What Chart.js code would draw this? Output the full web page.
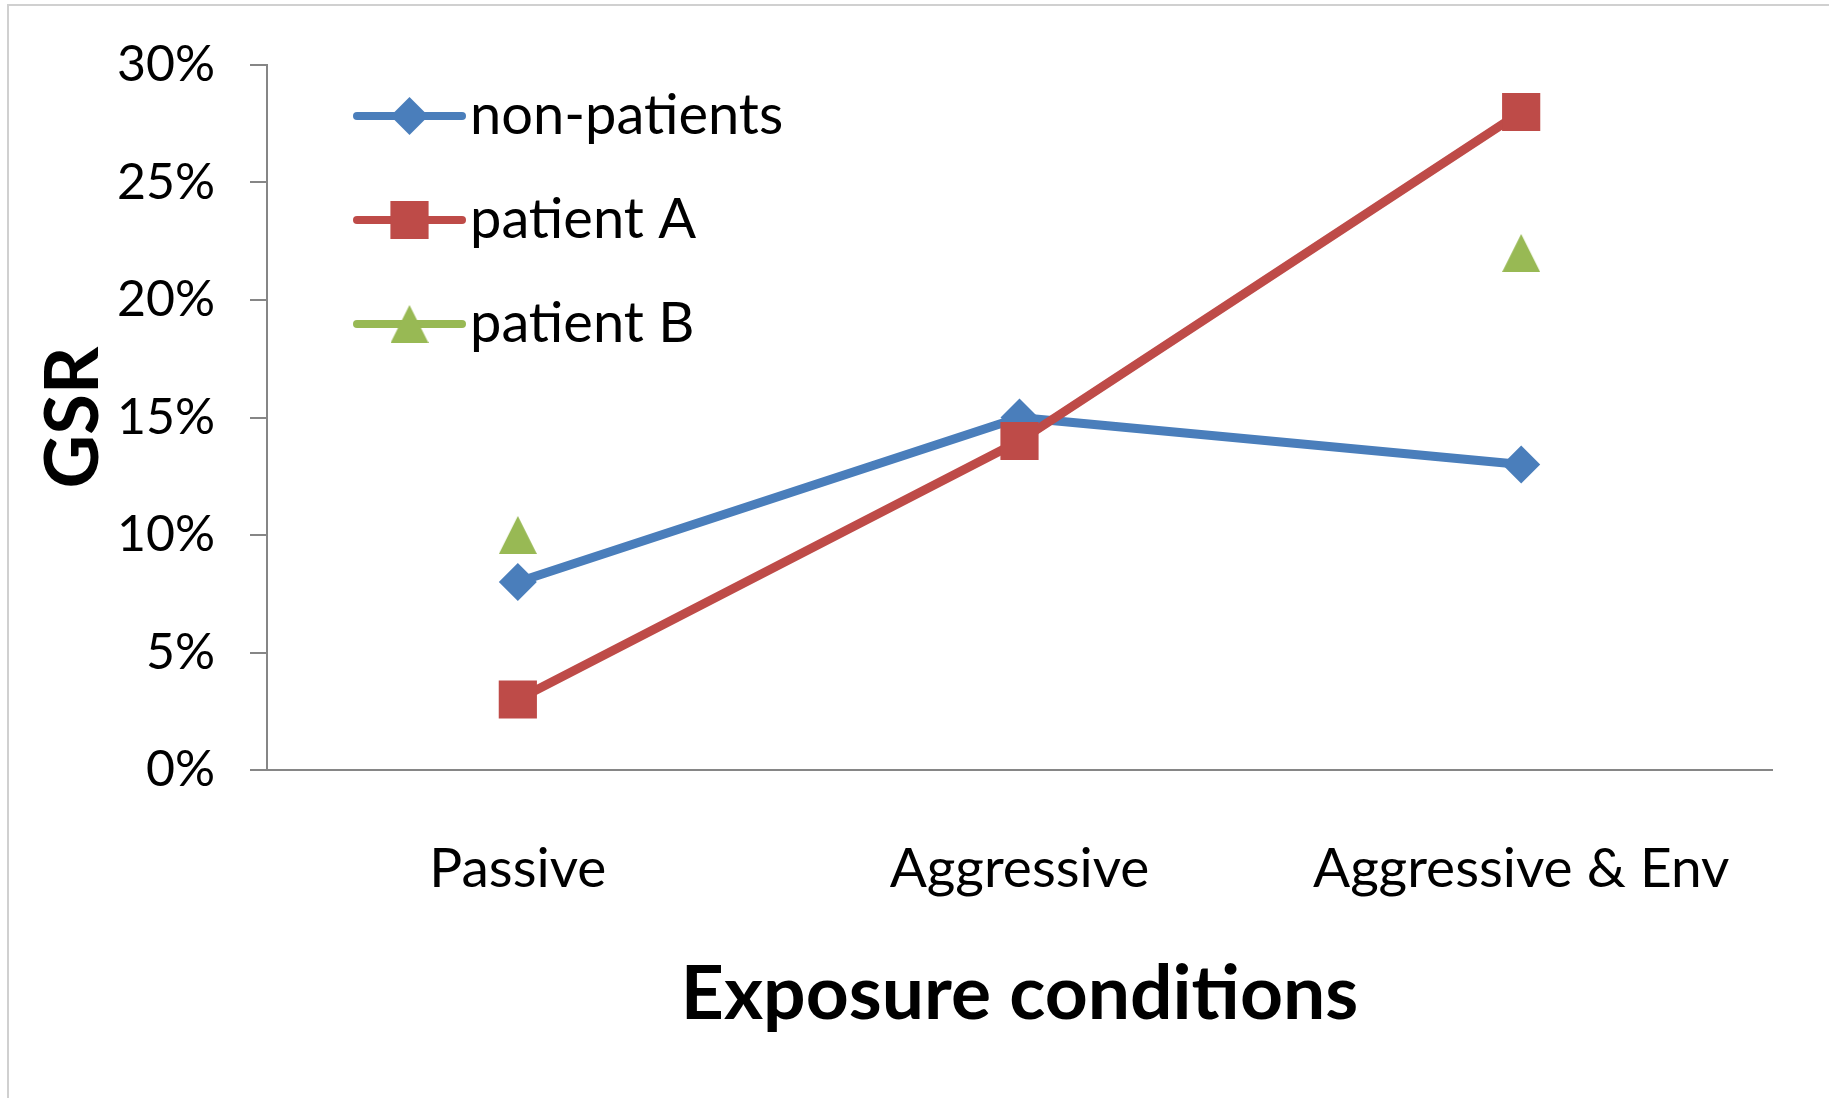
<!DOCTYPE html>
<html>
<head>
<meta charset="utf-8">
<title>GSR by exposure condition</title>
<script src="https://cdn.jsdelivr.net/npm/chart.js@4/dist/chart.umd.min.js"></script>
<style>
  html, body { margin: 0; padding: 0; background: #ffffff; overflow: hidden; }
  #wrap { position: relative; width: 1829px; height: 1098px; }
  #frame { position: absolute; left: 7px; top: 4px; width: 1900px; height: 1200px;
           border-left: 2px solid #d0d0d0; border-top: 2px solid #d0d0d0; }
  #c { position: absolute; left: 0; top: 0; }
</style>
</head>
<body>
<div id="wrap">
  <div id="frame"></div>
  <canvas id="c" width="1829" height="1098"></canvas>
</div>
<script>
// Exposure conditions on the x axis
const categories = ['Passive', 'Aggressive', 'Aggressive & Env'];

// GSR response, in percent
const nonPatients = [8, 15, 13];
const patientA = [3, 14, 28];
const patientB = [10, null, 22];

const seriesNames = ['non-patients', 'patient A', 'patient B'];

// y axis range and step, in percent
const yMin = 0;
const yMax = 30;
const yStep = 5;

const BLUE = '#4a7ebb';
const RED = '#be4b48';
const GREEN = '#98b954';
const AXIS = '#868686';
const FONT = 'Lato';

// Triangle marker centred on its box
function triangleMarker(color, size) {
  const c = document.createElement('canvas');
  c.width = size; c.height = size;
  const g = c.getContext('2d');
  g.fillStyle = color;
  g.beginPath();
  g.moveTo(size / 2, 0);
  g.lineTo(size, size);
  g.lineTo(0, size);
  g.closePath();
  g.fill();
  return c;
}
const triangle = triangleMarker(GREEN, 38);

// Legend drawn inside the plot area, each entry a line with its marker
const insideLegend = {
  id: 'insideLegend',
  afterDraw(chart) {
    const ctx = chart.ctx;
    const area = chart.chartArea;
    const x0 = area.left + 90, x1 = area.left + 195, textX = area.left + 203;
    chart.data.datasets.forEach((ds, i) => {
      const y = area.top + 51 + i * 104;
      ctx.save();
      ctx.strokeStyle = ds.borderColor;
      ctx.lineWidth = 8;
      ctx.lineCap = 'round';
      ctx.beginPath();
      ctx.moveTo(x0, y);
      ctx.lineTo(x1, y);
      ctx.stroke();
      ctx.fillStyle = ds.pointBackgroundColor;
      Chart.helpers.drawPoint(ctx, {
        pointStyle: ds.pointStyle, radius: ds.pointRadius, rotation: 0, borderWidth: 0
      }, (x0 + x1) / 2, y);
      ctx.fillStyle = '#000000';
      ctx.font = '56px ' + FONT;
      ctx.textAlign = 'left';
      ctx.textBaseline = 'middle';
      ctx.fillText(ds.label, textX, y);
      ctx.restore();
    });
  }
};

new Chart(document.getElementById('c'), {
  type: 'line',
  data: {
    labels: categories,
    datasets: [
      {
        label: seriesNames[0], data: nonPatients,
        borderColor: BLUE, backgroundColor: BLUE,
        pointBackgroundColor: BLUE, pointBorderWidth: 0,
        pointStyle: 'rectRot', pointRadius: 19, order: 3
      },
      {
        label: seriesNames[1], data: patientA,
        borderColor: RED, backgroundColor: RED,
        pointBackgroundColor: RED, pointBorderWidth: 0,
        pointStyle: 'rect', pointRadius: 27, order: 2
      },
      {
        label: seriesNames[2], data: patientB,
        borderColor: GREEN, backgroundColor: GREEN,
        pointBackgroundColor: GREEN, pointBorderWidth: 0,
        pointStyle: triangle, pointRadius: 19, order: 1,
        showLine: false
      }
    ]
  },
  options: {
    responsive: false,
    animation: false,
    devicePixelRatio: 1,
    spanGaps: false,
    elements: {
      line: { borderWidth: 9, tension: 0, borderCapStyle: 'round', borderJoinStyle: 'round' },
      point: { hoverRadius: 19 }
    },
    layout: { padding: { top: 62, right: 57, bottom: 0, left: 0 } },
    plugins: {
      legend: { display: false },
      tooltip: { enabled: false }
    },
    scales: {
      x: {
        type: 'category',
        offset: true,
        grid: { display: true, drawOnChartArea: false, drawTicks: false },
        border: { display: true, color: AXIS, width: 2 },
        ticks: { color: '#000000', padding: 66, maxRotation: 0, font: { family: FONT, size: 55 } },
        title: {
          display: true, text: 'Exposure conditions', color: '#000000',
          font: { family: FONT, size: 75, weight: 'bold' },
          padding: { top: 0, bottom: 58 }
        },
        afterFit(scale) { scale.height = 328; }
      },
      y: {
        min: yMin, max: yMax,
        grid: { display: true, drawOnChartArea: false, drawTicks: true, tickLength: 17, color: AXIS, lineWidth: 2 },
        border: { display: true, color: AXIS, width: 2 },
        ticks: {
          stepSize: yStep, color: '#000000', padding: 35,
          font: { family: FONT, size: 50 },
          callback: (v) => v + '%'
        },
        title: {
          display: true, text: 'GSR', color: '#000000',
          font: { family: FONT, size: 74, weight: 'bold' },
          padding: { top: 30, bottom: 0 }
        },
        afterFit(scale) { scale.width = 267; }
      }
    }
  },
  plugins: [insideLegend]
});
</script>
</body>
</html>
